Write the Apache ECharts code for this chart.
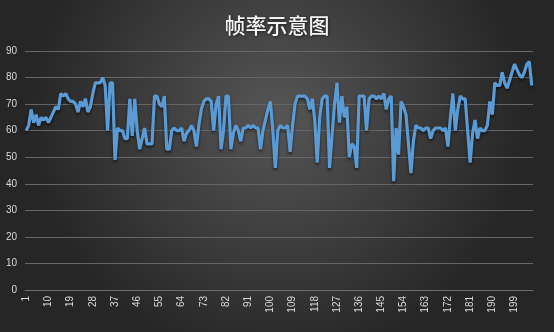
<!DOCTYPE html>
<html>
<head>
<meta charset="utf-8">
<script src="https://cdn.jsdelivr.net/npm/echarts@6/dist/echarts.min.js"></script>
<style>
html,body{margin:0;padding:0;background:#333;}
#c{width:554px;height:332px;}
</style>
</head>
<body>
<div id="c"></div>
<script>
const titleText = '帧率示意图';
const frameRate = [
 60,62,68,63,66,62,65,64,65,63, 65,67,69,68,74,73,74,72,71,71,
 70,67,71,69,72,67,69,74,78,78, 78,80,77,60,78,78,49,61,60,60,
 57,57,72,58,72,60,53,57,61,55, 55,55,73,73,70,69,73,53,53,60,
 61,60,60,61,56,59,60,62,60,54, 62,68,71,72,72,71,60,70,73,53,
 60,73,73,53,59,62,60,56,61,61, 62,61,62,61,61,53,60,64,68,71,
 60,46,60,62,61,61,62,52,62,70, 73,73,73,73,72,68,72,64,48,65,
 72,73,73,46,58,70,78,63,73,65, 69,50,55,54,46,73,73,73,60,72,
 73,73,72,73,72,74,68,72,73,41, 61,51,71,69,66,55,44,56,62,61,
 61,60,61,61,57,60,61,61,61,60, 61,54,65,74,60,68,73,72,72,60,
 48,59,64,57,61,60,60,62,71,66, 78,77,77,82,78,76,79,82,85,83,
 81,80,82,85,86,77
];
const categories = frameRate.map((v, i) => String(i + 1));
const yMin = 0, yMax = 90, yStep = 10;

const chart = echarts.init(document.getElementById('c'), null, {renderer: 'canvas'});
chart.setOption({
  animation: false,
  backgroundColor: {
    type: 'radial', x: 0.5, y: 0.35, r: 0.75,
    colorStops: [{offset: 0, color: '#565656'}, {offset: 1, color: '#262626'}]
  },
  title: {
    text: titleText, left: 'center', top: 10,
    textStyle: {
      color: '#f4f4f4', fontSize: 21, fontWeight: 500,
      fontFamily: 'Noto Sans CJK SC',
      textShadowColor: 'rgba(0,0,0,0.6)', textShadowBlur: 3, textShadowOffsetX: 1, textShadowOffsetY: 1
    }
  },
  grid: {left: 25, right: 21, top: 51, bottom: 42, containLabel: false},
  xAxis: {
    type: 'category', data: categories, boundaryGap: true,
    axisLine: {lineStyle: {color: '#6e6e6e', width: 1}},
    axisTick: {show: false},
    axisLabel: {
      interval: 8, rotate: 90, color: '#d9d9d9', fontSize: 10,
      fontFamily: 'Liberation Sans', margin: 6
    },
    splitLine: {show: false}
  },
  yAxis: {
    type: 'value', min: yMin, max: yMax, interval: yStep,
    axisLine: {show: false}, axisTick: {show: false},
    axisLabel: {color: '#d9d9d9', fontSize: 10, fontFamily: 'Liberation Sans', margin: 8},
    splitLine: {lineStyle: {color: '#666666', width: 1}}
  },
  series: [{
    type: 'line', data: frameRate, showSymbol: false, symbol: 'none',
    lineStyle: {color: '#5b9bd5', width: 3.2, shadowColor: 'rgba(0,0,0,0.6)', shadowBlur: 3, shadowOffsetY: 2},
    itemStyle: {color: '#5b9bd5'}
  }]
});
</script>
</body>
</html>
